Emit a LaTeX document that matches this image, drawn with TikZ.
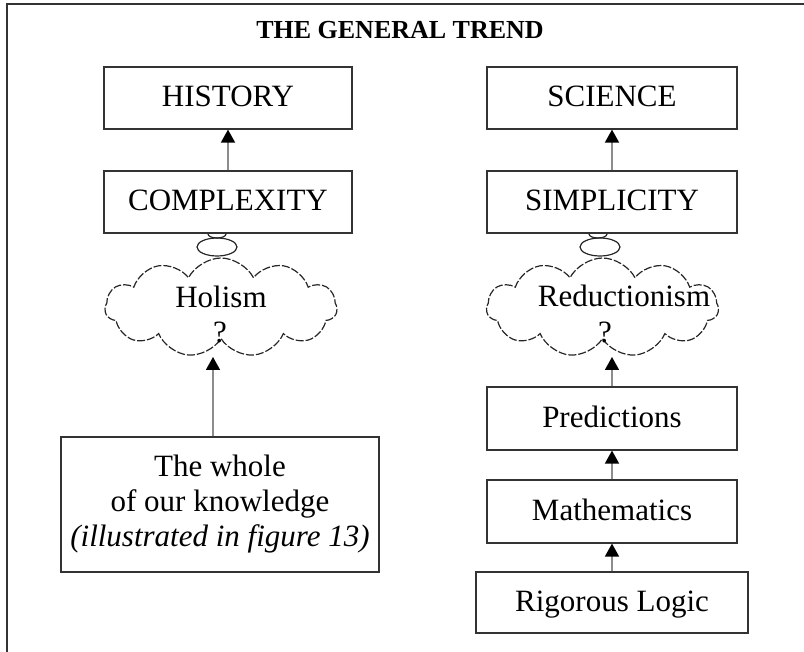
\documentclass[tikz,border=0pt]{standalone}
\usepackage{fontspec}
\setmainfont{Liberation Serif}
\usetikzlibrary{arrows.meta,positioning,shapes.symbols,shapes.geometric}

\begin{document}
\begin{tikzpicture}[
    x=0.5pt, y=-0.5pt,
    box/.style={rectangle, draw=black!80, line width=0.6pt, fill=white, inner sep=0pt,
                font=\fontsize{15.5}{17}\selectfont, text height=0.95em, text depth=0.05em},
    cloudy/.style={cloud, cloud puffs=11, cloud puff arc=125, aspect=2.3, draw=black!85, line width=0.6pt,
                   dash pattern=on 4pt off 1pt, inner sep=0pt,
                   minimum width=116pt, minimum height=49.5pt},
    bubble/.style={ellipse, draw=black!85, line width=0.6pt, inner sep=0pt},
    label/.style={font=\fontsize{15.5}{17}\selectfont, anchor=base, inner sep=0pt},
    link/.style={-{Triangle[length=6.5pt, width=7pt, color=black]}, draw=black!45, line width=0.8pt}
]
\useasboundingbox (0,0) rectangle (804,652);

% frame and title
\draw[black!80, line width=1pt] (6.5,652) -- (6.5,4.5) -- (804,4.5);
\node[font=\bfseries\fontsize{13}{15}\selectfont] (title) at (400,30) {THE GENERAL TREND};

% hidden bubbles behind the boxes
\node[bubble, minimum width=9pt, minimum height=4pt] (tinyL) at (217,234) {};
\node[bubble, minimum width=9pt, minimum height=4pt] (tinyR) at (598,234) {};

% left column
\node[box, minimum width=124pt, minimum height=31pt] (history) at (228,98) {HISTORY};
\node[box, minimum width=124pt, minimum height=31pt] (complexity) at (228,202) {COMPLEXITY};
\node[bubble, minimum width=20pt, minimum height=9pt] (bubL) at (217,247) {};
\node[cloudy] (holism) at (221,307.5) {};
\node[label] (holismtxt) at (221,308) {Holism};
\node[label] (holismq) at (220,343) {?};
\coordinate (holismbase) at (213,357);
\node[box, minimum width=159pt, minimum height=67.5pt, text height=, text depth=, align=center,
      font=\fontsize{15.5}{17.5}\selectfont] (whole) at (220,504.5)
      {The whole\\of our knowledge\\\textit{(illustrated in figure 13)}};

\draw[link] (complexity) -- (history);
\draw[link] (whole.north -| holismbase) -- (holismbase);

% right column
\node[box, minimum width=125pt, minimum height=31pt] (science) at (612,98) {SCIENCE};
\node[box, minimum width=125pt, minimum height=31pt] (simplicity) at (612,202) {SIMPLICITY};
\node[bubble, minimum width=20pt, minimum height=9pt] (bubR) at (600,247) {};
\node[cloudy] (reduction) at (602.5,307.5) {};
\node[label] (reductiontxt) at (624,307) {Reductionism};
\node[label] (reductionq) at (605,343) {?};
\coordinate (reductionbase) at (612,357);
\node[box, minimum width=125pt, minimum height=31.5pt] (predictions) at (612,418.5) {Predictions};
\node[box, minimum width=125pt, minimum height=31.5pt] (mathematics) at (612,511.5) {Mathematics};
\node[box, minimum width=136pt, minimum height=30.5pt] (logic) at (612,602.5) {Rigorous Logic};

\draw[link] (simplicity) -- (science);
\draw[link] (predictions.north) -- (reductionbase);
\draw[link] (mathematics) -- (predictions);
\draw[link] (logic) -- (mathematics);

\end{tikzpicture}
\end{document}
